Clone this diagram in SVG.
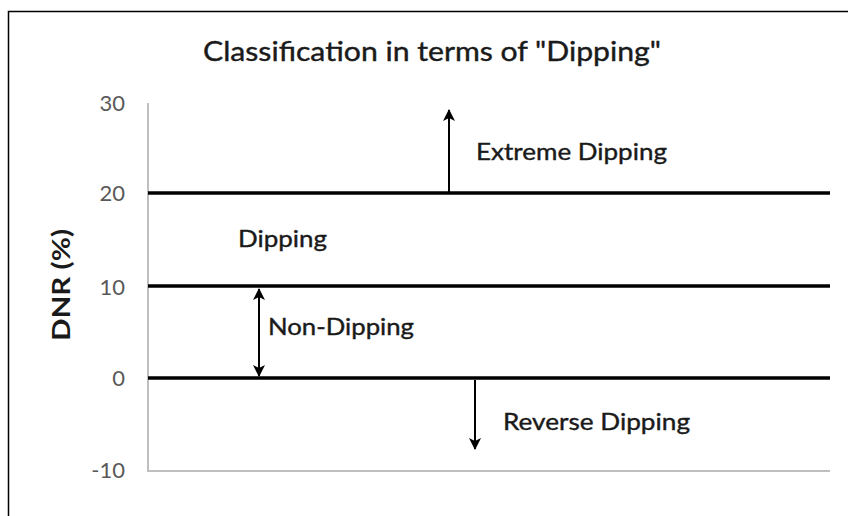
<svg xmlns="http://www.w3.org/2000/svg" width="848" height="516" viewBox="0 0 848 516">
<style>
.lbl{font-family:Lato,"Liberation Sans",sans-serif;font-size:24px;fill:#1a1a1a;stroke:#1a1a1a;stroke-width:0.4}
.tick{font-family:Lato,"Liberation Sans",sans-serif;font-size:22px;fill:#595959;text-anchor:end}
.band{stroke:#000;stroke-width:3.5}
.arr{stroke:#000;stroke-width:2;fill:none}
</style>
<defs>
<marker id="ah2" viewBox="0 0 12 12" refX="11" refY="6" markerWidth="12" markerHeight="12" orient="auto-start-reverse" markerUnits="userSpaceOnUse">
<path d="M0,0 L12,6 L0,12 L3,6 z" fill="#000"/>
</marker>
</defs>
<rect x="0" y="0" width="848" height="516" fill="#fff"/>
<path d="M8.5,516 V11.5 H848" fill="none" stroke="#000" stroke-width="1.5"/>
<g id="title"><text x="432" y="61" text-anchor="middle" font-family="Lato, Liberation Sans, sans-serif" font-size="27" fill="#1a1a1a" stroke="#1a1a1a" stroke-width="0.4" textLength="458" lengthAdjust="spacingAndGlyphs">Classification in terms of "Dipping"</text></g>
<g id="axis">
<path d="M148,103 V471 H830" fill="none" stroke="#bfbfbf" stroke-width="2"/>
<text class="tick" x="125" y="111">30</text>
<text class="tick" x="125" y="201">20</text>
<text class="tick" x="125" y="295">10</text>
<text class="tick" x="125" y="386">0</text>
<text class="tick" x="125" y="478">-10</text>
<text transform="translate(70,285) rotate(-90)" text-anchor="middle" font-family="Lato, Liberation Sans, sans-serif" font-weight="bold" font-size="25" fill="#1a1a1a" textLength="112" lengthAdjust="spacingAndGlyphs">DNR (%)</text>
</g>
<g id="bands">
<line class="band" x1="148" y1="193" x2="830" y2="193"/>
<line class="band" x1="148" y1="286" x2="830" y2="286"/>
<line class="band" x1="148" y1="378" x2="830" y2="378"/>
</g>
<g id="connectors">
<line class="arr" x1="449" y1="192" x2="449" y2="110" marker-end="url(#ah2)"/>
<line class="arr" x1="259" y1="289" x2="259" y2="376" marker-start="url(#ah2)" marker-end="url(#ah2)"/>
<line class="arr" x1="475" y1="380" x2="475" y2="449" marker-end="url(#ah2)"/>
</g>
<g id="extreme"><text class="lbl" x="476" y="160" textLength="191" lengthAdjust="spacingAndGlyphs">Extreme Dipping</text></g>
<g id="dipping"><text class="lbl" x="238" y="247" textLength="89" lengthAdjust="spacingAndGlyphs">Dipping</text></g>
<g id="nondipping"><text class="lbl" x="268" y="335" textLength="146" lengthAdjust="spacingAndGlyphs">Non-Dipping</text></g>
<g id="reverse"><text class="lbl" x="503" y="430" textLength="187" lengthAdjust="spacingAndGlyphs">Reverse Dipping</text></g>
</svg>
